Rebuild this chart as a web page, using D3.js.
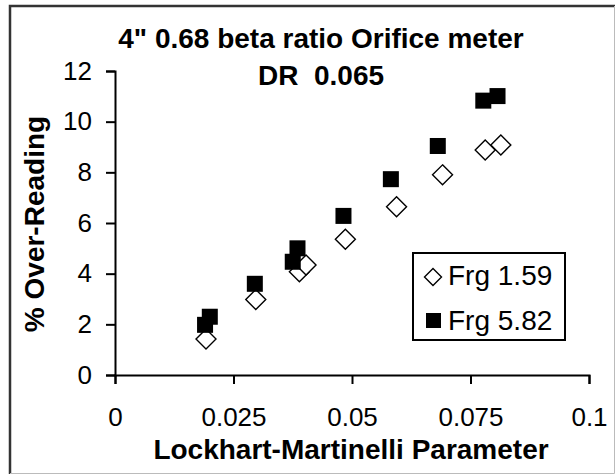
<!DOCTYPE html>
<html>
<head>
<meta charset="utf-8">
<script src="https://cdn.jsdelivr.net/npm/d3@7"></script>
<style>
  body { margin: 0; background: #fff; }
  text { font-family: Arial, "Liberation Sans", sans-serif; fill: #000; }
</style>
</head>
<body>
<script>
var w = 615, h = 474;

// data
var lmFrg159 = [0.0192, 0.0297, 0.0389, 0.0403, 0.0486, 0.0594, 0.0691, 0.0781, 0.0814];
var orFrg159 = [1.42, 2.98, 4.08, 4.34, 5.36, 6.64, 7.9, 8.88, 9.08];
var lmFrg582 = [0.0190, 0.0200, 0.0295, 0.0375, 0.0385, 0.0482, 0.0582, 0.0681, 0.0777, 0.0807];
var orFrg582 = [1.98, 2.3, 3.6, 4.47, 5.0, 6.28, 7.73, 9.04, 10.83, 11.01];
var seriesNames = ["Frg 1.59", "Frg 5.82"];
var xTicks = [0, 0.025, 0.05, 0.075, 0.1];
var xTickLabels = ["0", "0.025", "0.05", "0.075", "0.1"];
var yTicks = [0, 2, 4, 6, 8, 10, 12];

var svg = d3.select("body").append("svg")
            .attr("width", w)
            .attr("height", h);

// outer frame: dark top/left, light bottom/right
svg.append("path")
   .attr("d", "M10,474V6H615")
   .attr("fill", "none").attr("stroke", "#333").attr("stroke-width", 2.5);
svg.append("path")
   .attr("d", "M10,473.5H614.5V6")
   .attr("fill", "none").attr("stroke", "#bbb").attr("stroke-width", 1);

var x = d3.scaleLinear().domain([0, 0.1]).range([115, 589]);
var y = d3.scaleLinear().domain([0, 12]).range([375, 71]);

// title
svg.append("text")
   .attr("x", 321).attr("y", 48)
   .attr("text-anchor", "middle")
   .attr("font-size", 28).attr("font-weight", "bold")
   .text("4\" 0.68 beta ratio Orifice meter");
svg.append("text")
   .attr("x", 321).attr("y", 85)
   .attr("text-anchor", "middle")
   .attr("font-size", 28).attr("font-weight", "bold")
   .attr("xml:space", "preserve")
   .text("DR  0.065");

// axes
var xAxis = svg.append("g")
   .attr("transform", "translate(0," + y(0) + ")")
   .call(d3.axisBottom(x).tickValues(xTicks)
           .tickFormat(function(d, i) { return xTickLabels[i]; })
           .tickSizeOuter(0).tickSize(9).tickPadding(24));
var yAxis = svg.append("g")
   .attr("transform", "translate(" + x(0) + ",0)")
   .call(d3.axisLeft(y).tickValues(yTicks)
           .tickSizeOuter(0).tickSize(9).tickPadding(14));
[xAxis, yAxis].forEach(function(a) {
  a.selectAll("path, line").attr("stroke", "#000").attr("stroke-width", 2);
  a.selectAll("text").attr("font-size", 26).attr("fill", "#000")
   .attr("font-family", "Arial, 'Liberation Sans', sans-serif");
});

// axis titles
svg.append("text")
   .attr("x", 351).attr("y", 459)
   .attr("text-anchor", "middle")
   .attr("font-size", 28).attr("font-weight", "bold")
   .text("Lockhart-Martinelli Parameter");
svg.append("text")
   .attr("transform", "translate(44,224) rotate(-90)")
   .attr("text-anchor", "middle")
   .attr("font-size", 28).attr("font-weight", "bold")
   .text("% Over-Reading");

var sq = 16, dm = 10;
function diamond(cx, cy, r) {
  return "M" + cx + "," + (cy - r) + "L" + (cx + r) + "," + cy +
         "L" + cx + "," + (cy + r) + "L" + (cx - r) + "," + cy + "Z";
}

// Frg 1.59 open diamonds
svg.append("g").selectAll("path")
   .data(d3.range(lmFrg159.length))
   .enter().append("path")
   .attr("d", function(i) { return diamond(x(lmFrg159[i]), y(orFrg159[i]), dm); })
   .attr("fill", "#fff")
   .attr("stroke", "#000")
   .attr("stroke-width", 1.4);

// Frg 5.82 filled squares
svg.append("g").selectAll("rect")
   .data(d3.range(lmFrg582.length))
   .enter().append("rect")
   .attr("x", function(i) { return x(lmFrg582[i]) - sq/2; })
   .attr("y", function(i) { return y(orFrg582[i]) - sq/2; })
   .attr("width", sq).attr("height", sq)
   .attr("fill", "#000");

// legend
var lg = svg.append("g").attr("transform", "translate(413,253)");
lg.append("rect")
  .attr("width", 152).attr("height", 87)
  .attr("fill", "#fff").attr("stroke", "#000").attr("stroke-width", 2);
lg.append("path")
  .attr("d", diamond(20, 24, 8.5))
  .attr("fill", "#fff").attr("stroke", "#000").attr("stroke-width", 1.4);
lg.append("rect")
  .attr("x", 13).attr("y", 60).attr("width", 15).attr("height", 15)
  .attr("fill", "#000");
lg.selectAll("text.lab")
  .data(seriesNames)
  .enter().append("text")
  .attr("class", "lab")
  .attr("x", 35)
  .attr("y", function(d, i) { return 32 + i * 45; })
  .attr("font-size", 28)
  .text(function(d) { return d; });
</script>
</body>
</html>
